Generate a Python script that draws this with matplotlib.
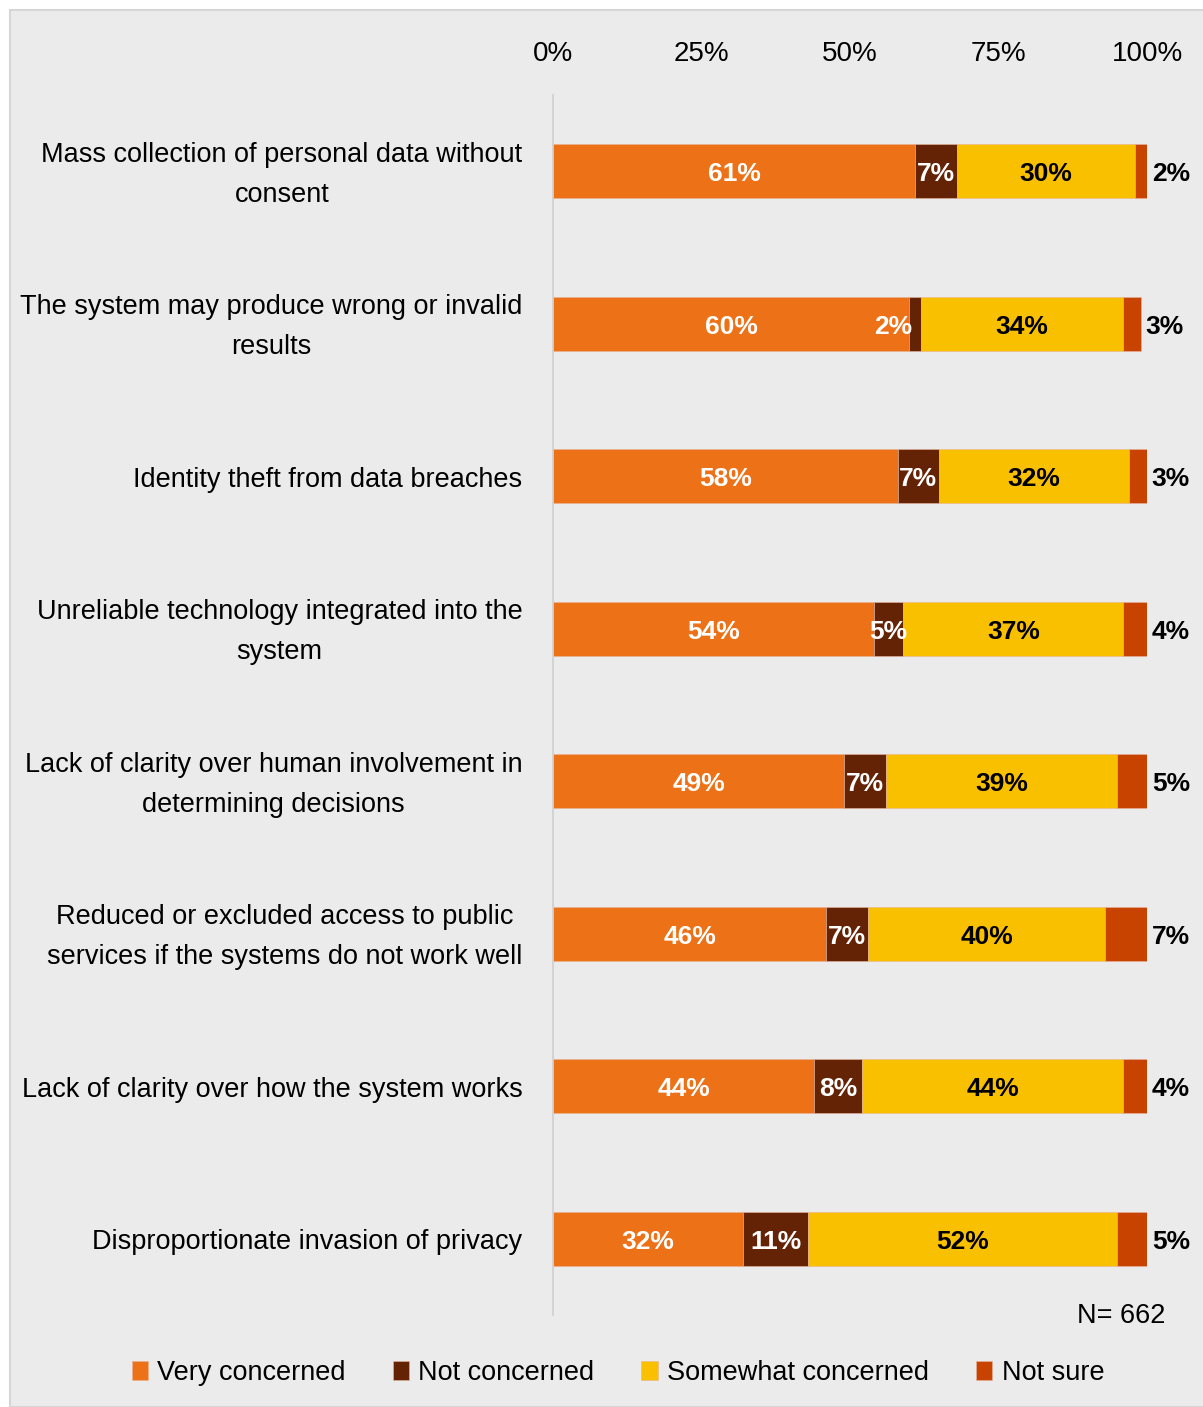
import matplotlib.pyplot as plt
import matplotlib.transforms as mtransforms
from matplotlib.patches import Rectangle
import numpy as np

plt.rcParams["font.family"] = ["Liberation Sans", "DejaVu Sans"]

concerns = [
    "Mass collection of personal data without\nconsent",
    "The system may produce wrong or invalid\nresults",
    "Identity theft from data breaches",
    "Unreliable technology integrated into the\nsystem",
    "Lack of clarity over human involvement in\ndetermining decisions",
    "Reduced or excluded access to public\nservices if the systems do not work well",
    "Lack of clarity over how the system works",
    "Disproportionate invasion of privacy",
]
very_concerned = [61, 60, 58, 54, 49, 46, 44, 32]
not_concerned = [7, 2, 7, 5, 7, 7, 8, 11]
somewhat_concerned = [30, 34, 32, 37, 39, 40, 44, 52]
not_sure = [2, 3, 3, 4, 5, 7, 4, 5]
series_names = ["Very concerned", "Not concerned", "Somewhat concerned", "Not sure"]
colors = ["#ED7117", "#652306", "#F9C000", "#C84300"]
label_colors = ["white", "white", "black", "black"]
x_ticks = [0, 25, 50, 75, 100]

W, H = 1203, 1407
fig = plt.figure(figsize=(W / 100, H / 100), dpi=100)
fig.patch.set_facecolor("white")
fig.patches.append(Rectangle((10 / W, 0), 1.2, (H - 10) / H, transform=fig.transFigure,
                             facecolor="#EBEBEB", edgecolor="#D6D6D6", linewidth=1.5, zorder=-10))

ax = fig.add_axes([553 / W, 1 - 1315 / H, 594 / W, 1220 / H])
ax.set_facecolor("none")

y = np.arange(len(concerns))
series = [very_concerned, not_concerned, somewhat_concerned, not_sure]
left = np.zeros(len(concerns))
bar_h = 0.355
for vals, name, col, tcol in zip(series, series_names, colors, label_colors):
    vals = np.array(vals, dtype=float)
    ax.barh(y, vals, left=left, height=bar_h, color=col, label=name,
            edgecolor="#E8B49A", linewidth=0.4)
    for yi, v, l in zip(y, vals, left):
        if name == "Not sure":
            x, ha = l + v + 0.8, "left"
        elif v < 4:
            # too thin for the label, so it sits just left of the segment
            x, ha = l + 0.4, "right"
        else:
            x, ha = l + v / 2, "center"
        ax.text(x, yi + 0.02, f"{v:.0f}%", ha=ha, va="center",
                fontsize=19, fontweight="bold", color=tcol)
    left += vals

ax.set_xlim(0, 100)
ax.set_ylim(len(concerns) - 0.5, -0.5)
ax.xaxis.tick_top()
ax.set_xticks(x_ticks)
ax.set_xticklabels([f"{t}%" for t in x_ticks])
ax.tick_params(axis="x", length=0, pad=20.5, labelsize=20)
ax.set_yticks(y)
ax.set_yticklabels(concerns, multialignment="center")
ax.tick_params(axis="y", length=0, pad=22, labelsize=19.5)
nudge = mtransforms.ScaledTranslation(0, -3.5 / 100, fig.dpi_scale_trans)
for lbl in ax.get_yticklabels():
    lbl.set_linespacing(1.7)
    lbl.set_verticalalignment("center")
    lbl.set_transform(lbl.get_transform() + nudge)
for side in ["top", "right", "bottom"]:
    ax.spines[side].set_visible(False)
ax.spines["left"].set_color("#CFCFCF")
ax.spines["left"].set_linewidth(1.2)

fig.text(1165 / W, 1 - 1316 / H, "N= 662", ha="right", va="center", fontsize=19.5)

fig.legend(loc="center", bbox_to_anchor=(618 / W, 1 - 1373 / H), ncol=4, frameon=False,
           fontsize=19.5, handlelength=0.6, handleheight=0.7, handletextpad=0.35,
           columnspacing=1.73)

fig.savefig("out.png", dpi=100, facecolor=fig.get_facecolor())
